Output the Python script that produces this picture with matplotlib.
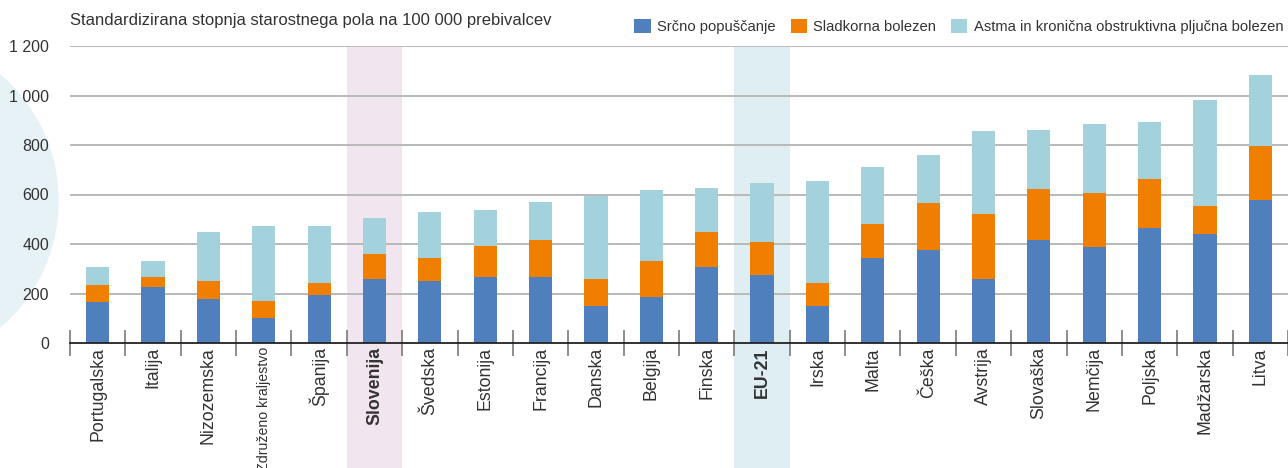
# Stacked bars: age-standardised avoidable hospital admissions per 100 000
import matplotlib
matplotlib.use('Agg')
import matplotlib.pyplot as plt
from matplotlib.patches import Ellipse

plt.rcParams['font.family'] = ['Liberation Sans', 'DejaVu Sans']

countries = ['Portugalska', 'Italija', 'Nizozemska', 'Združeno kraljestvo', 'Španija',
             'Slovenija', 'Švedska', 'Estonija', 'Francija', 'Danska', 'Belgija',
             'Finska', 'EU-21', 'Irska', 'Malta', 'Češka', 'Avstrija', 'Slovaška',
             'Nemčija', 'Poljska', 'Madžarska', 'Litva']
# values (cumulative tops)
heart = [166, 226, 178, 102, 194, 259, 250, 267, 267, 151, 186, 307, 275, 151,
         343, 376, 259, 416, 388, 465, 440, 578]
diab_top = [234, 267, 250, 170, 242, 359, 343, 392, 416, 259, 331, 448, 408, 242,
            481, 565, 521, 622, 606, 663, 553, 797]
total = [307, 331, 448, 473, 473, 505, 529, 537, 570, 594, 618, 626, 646, 654,
         711, 760, 857, 861, 885, 893, 982, 1083]

diabetes = [d - h for d, h in zip(diab_top, heart)]
asthma = [t - d for t, d in zip(total, diab_top)]

c_blue = '#4f80bd'
c_orange = '#f07f00'
c_light = '#a3d1dc'

fig = plt.figure(figsize=(12.88, 4.68), dpi=100)
fig.patches.append(Ellipse((-108 / 1288, (468 - 201) / 468), 2 * 166 / 1288, 2 * 166 / 468,
                           transform=fig.transFigure, color='#e6f2f6', zorder=-1))

ax = fig.add_axes([70 / 1288, 125 / 468, 1218 / 1288, 297 / 468])
ax.patch.set_alpha(0)

x = list(range(len(countries)))
ax.set_xlim(-0.5, len(countries) - 0.5)
ax.set_ylim(0, 1200)

# highlighted columns
for name, col in [('Slovenija', '#f1e6ef'), ('EU-21', '#deeef3')]:
    i = countries.index(name)
    ax.axvspan(i - 0.5, i + 0.5, ymin=-125 / 297, ymax=1, color=col, lw=0,
               clip_on=False, zorder=0)

for v in [200, 400, 600, 800, 1000, 1200]:
    ax.axhline(v, color='#b9b9b9', lw=1.4, zorder=1)

w = 0.42
ax.bar(x, heart, w, color=c_blue, zorder=3, label='Srčno popuščanje')
ax.bar(x, diabetes, w, bottom=heart, color=c_orange, zorder=3, label='Sladkorna bolezen')
ax.bar(x, asthma, w, bottom=diab_top, color=c_light, zorder=3,
       label='Astma in kronična obstruktivna pljučna bolezen')

for s in ['top', 'right', 'left']:
    ax.spines[s].set_visible(False)
ax.spines['bottom'].set_color('#222222')
ax.spines['bottom'].set_linewidth(1.3)
ax.spines['bottom'].set_zorder(4)

ax.set_yticks([0, 200, 400, 600, 800, 1000, 1200])
ax.set_yticklabels(['0', '200', '400', '600', '800', '1 000', '1 200'])
ax.tick_params(axis='y', length=0, pad=15, labelsize=11.5, labelcolor='#333333')

ax.set_xticks(x)
ax.set_xticklabels(countries, rotation=90, va='top', ha='center')
ax.tick_params(axis='x', which='major', length=0, pad=3, labelsize=12.8, labelcolor='#333333')
for lab in ax.get_xticklabels():
    if lab.get_text() in ('Slovenija', 'EU-21'):
        lab.set_fontweight('bold')
    if lab.get_text() == 'Združeno kraljestvo':
        lab.set_fontsize(10.2)  # long label, keep it inside the picture
ax.set_xticks([i - 0.5 for i in range(len(countries) + 1)], minor=True)
ax.tick_params(axis='x', which='minor', direction='inout', length=19, width=1.2,
               color='#7a7a7a')

fig.text(70 / 1288, 1 - 21 / 468, 'Standardizirana stopnja starostnega pola na 100 000 prebivalcev',
         fontsize=12, color='#333333', va='center', ha='left')

leg = ax.legend(loc='lower right', bbox_to_anchor=(1.0, 1.025), ncol=3, frameon=False,
                fontsize=10.6, handlelength=1.1, handleheight=1.1, handletextpad=0.45,
                columnspacing=1.0, borderaxespad=0.2, borderpad=0.1)
for t in leg.get_texts():
    t.set_color('#333333')

fig.savefig('out.png', dpi=100)
